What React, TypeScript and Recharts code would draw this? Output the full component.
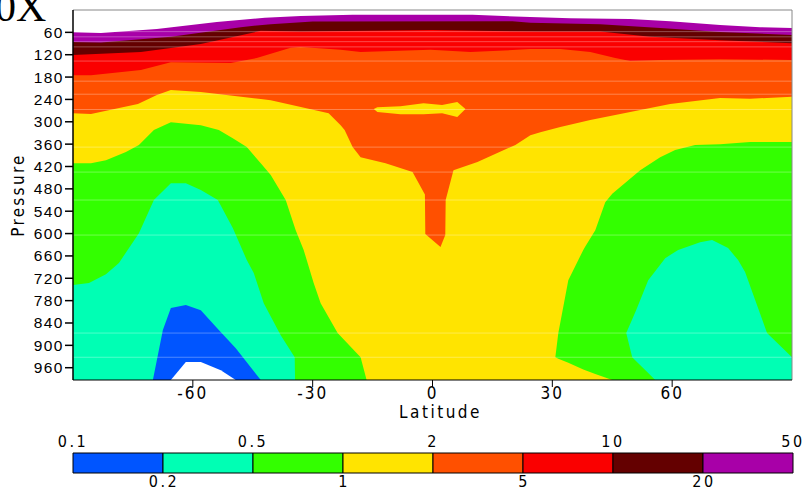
import { ComposedChart, Area, XAxis, YAxis, ReferenceLine, BarChart, Bar, LabelList } from "recharts";

const FONT = '"Liberation Sans", Arial, sans-serif';
const NARROW = '"Liberation Sans Narrow", "Arial Narrow", "DejaVu Sans Condensed", sans-serif';

const latTicks = [-60, -30, 0, 30, 60];
const pressureTicks = [60, 120, 180, 240, 300, 360, 420, 480, 540, 600, 660, 720, 780, 840, 900, 960];
const P_BOTTOM = 993;

// contour levels shown in the colour bar
const levelLabels = ["0.1", "0.2", "0.5", "1", "2", "5", "10", "20", "50"];
const bandColors = ["#0055ff", "#00ffb4", "#33ff00", "#ffe400", "#ff5000", "#fa0000", "#640000", "#a800a8"];

// [lat, pressure] : the field is above the level from the model top down to this pressure
const above50: [number, number][] = [[-90, 60], [-83, 62], [-69, 51], [-54, 32], [-42, 21], [-33, 16], [-20, 13], [10, 13], [24.5, 19], [34.5, 22], [49.5, 24], [59.5, 30], [72, 40], [82, 46], [90, 48]];
const above20: [number, number][] = [[-90, 86], [-83, 87], [-65.5, 72], [-48, 46], [-40.5, 38], [-30, 31], [20, 30], [24.5, 34], [42, 38], [57, 48], [72, 59], [90, 67]];
const above10: [number, number][] = [[-90, 121], [-73, 113], [-58, 91], [-43, 56], [-33, 58], [0, 54], [27, 58], [42, 58], [54.5, 72], [72, 81], [90, 89]];
const above5: [number, number][] = [[-90, 175], [-85.5, 175], [-73, 161], [-65.5, 140], [-50.5, 142], [-44, 129], [-35.5, 101], [-33, 99], [-23, 107], [-18, 113], [-0.5, 107], [9.5, 113], [24.5, 105], [32, 105], [39.5, 113], [45.75, 129], [49.5, 137], [57, 134], [72, 132], [90, 134]];
const above2: [number, number][] = [[-90, 277], [-85.5, 279], [-73.75, 252], [-69, 228], [-65.5, 215], [-58, 220], [-43, 239], [-40.5, 242], [-26, 277], [-23, 309], [-22, 322], [-20, 368], [-18, 395], [-11.75, 411], [-5, 435], [-1.9, 495], [-1.8, 601], [2, 636], [3.2, 604], [3.3, 510], [5.25, 430], [11.25, 408], [20.75, 362], [24.5, 336], [27, 328], [32, 314], [39.5, 295], [49.5, 274], [59.5, 252], [72, 236], [79.5, 238], [90, 233]];

// [lat, top, bottom] : pocket below 2 inside the tropical upper band
const pocket2: [number, number, number][] = [[-14.7, 266, 266], [-13.8, 261, 274], [-8, 258, 280], [-2.25, 250, 280], [2.4, 255, 277], [6.2, 247, 287], [8.25, 266, 266]];

// [lat, pressure] : below the level from this pressure down to the surface
const below1West: [number, number][] = [[-90, 411], [-85.5, 411], [-81.75, 403], [-76.75, 381], [-73.5, 362], [-69.75, 322], [-65.5, 301], [-58, 309], [-53.5, 322], [-50, 344], [-46.5, 368], [-43, 411], [-40.5, 443], [-36.75, 510], [-34.25, 591], [-32.25, 644], [-29.75, 733], [-28, 787], [-23.75, 867], [-18, 932], [-16.5, 993]];
const below05West: [number, number][] = [[-90, 738], [-86, 733], [-81.75, 709], [-78.5, 679], [-73.5, 599], [-69.75, 510], [-65.5, 465], [-61.75, 465], [-58, 483], [-53.75, 510], [-50, 585], [-46.5, 671], [-44.75, 706], [-42.25, 787], [-38, 873], [-34.5, 932], [-34.4, 993]];
const below02: [number, number][] = [[-70, 993], [-67.5, 859], [-65.5, 800], [-61.75, 792], [-58, 806], [-53.5, 859], [-49.25, 908], [-43, 993]];
const below01: [number, number][] = [[-65.5, 993], [-61.75, 945], [-58, 945], [-53, 967], [-49.25, 993]];

// [lat, top, bottom]
const below1East: [number, number, number][] = [[30.75, 932, 932], [31.5, 867, 936], [34, 725, 947], [37.75, 644, 965], [38.25, 635, 967], [40.75, 591, 977], [43.25, 516, 986], [45, 493, 993], [52, 430, 993], [57, 395, 993], [60.75, 376, 993], [65.75, 362, 993], [72, 360, 993], [79.5, 354, 993], [90, 354, 993]];
const below05East: [number, number, number][] = [[48.5, 867, 867], [50, 830, 932], [51, 805, 943], [54, 725, 974], [55.75, 701, 993], [58.25, 666, 993], [61.5, 644, 993], [67, 623, 993], [70, 617, 993], [74, 639, 993], [76.5, 671, 993], [78.25, 703, 993], [83.75, 867, 993], [90, 932, 993]];

// faint level seams visible across the plot
const seamLevels = [58, 72, 85, 99, 137, 191, 226, 267, 368, 435, 510, 604, 867, 932];

const fromTop = (pts: [number, number][]) => pts.map(([lat, p]) => ({ lat, v: [0, p] }));
const toBottom = (pts: [number, number][]) => pts.map(([lat, p]) => ({ lat, v: [p, P_BOTTOM] }));
const band = (pts: [number, number, number][]) => pts.map(([lat, a, b]) => ({ lat, v: [a, b] }));
const fullField = [{ lat: -90, v: [0, P_BOTTOM] }, { lat: 90, v: [0, P_BOTTOM] }];

const layers: { data: { lat: number; v: number[] }[]; color: string }[] = [
  { data: fullField, color: bandColors[3] },
  { data: fromTop(above2), color: bandColors[4] },
  { data: band(pocket2), color: bandColors[3] },
  { data: fromTop(above5), color: bandColors[5] },
  { data: fromTop(above10), color: bandColors[6] },
  { data: fromTop(above20), color: bandColors[7] },
  { data: fromTop(above50), color: "#ffffff" },
  { data: toBottom(below1West), color: bandColors[2] },
  { data: band(below1East), color: bandColors[2] },
  { data: toBottom(below05West), color: bandColors[1] },
  { data: band(below05East), color: bandColors[1] },
  { data: toBottom(below02), color: bandColors[0] },
  { data: toBottom(below01), color: "#ffffff" },
];

const yTick = { fill: "#000", fontSize: 15.5, fontFamily: FONT, letterSpacing: 1.5 };
const xTick = { fill: "#000", fontSize: 17, fontFamily: NARROW, letterSpacing: 2 };
const barTick = { fill: "#000", fontSize: 16, fontFamily: NARROW, letterSpacing: 2.5 };
const barRow = [Object.fromEntries([["row", "bar"], ...bandColors.map((_, i) => [`b${i}`, 1])])];

// label under the right edge of a colour cell
const belowLabel = (text: string) => (props: any) => {
  const vb = props.viewBox ?? props;
  return (
    <text
      x={vb.x + vb.width + 1}
      y={vb.y + vb.height + 3}
      dy="0.71em"
      textAnchor="middle"
      fill="#000"
      fontSize={16}
      fontFamily={NARROW}
      letterSpacing={2.5}
    >
      {text}
    </text>
  );
};

export default function App() {
  return (
    <div style={{ position: "absolute", left: 0, top: 0, width: 804, height: 490, background: "#fff", overflow: "hidden" }}>
      <svg width={120} height={40} style={{ position: "absolute", left: 0, top: 0 }}>
        <text x={-5} y={21} fontFamily='"Liberation Serif", "Times New Roman", serif' fontSize={42} fill="#000">
          0X
        </text>
      </svg>
      <div style={{ position: "absolute", left: 0, top: 0 }}>
        <ComposedChart width={804} height={432} margin={{ top: 10, right: 12, bottom: 0, left: 0 }}>
          {layers.map((l, i) => (
            <Area
              key={i}
              data={l.data}
              dataKey="v"
              type="linear"
              fill={l.color}
              fillOpacity={1}
              stroke="none"
              dot={false}
              activeDot={false}
              isAnimationActive={false}
            />
          ))}
          {seamLevels.map((p) => (
            <ReferenceLine key={p} y={p} stroke="#ffffff" strokeOpacity={0.3} strokeWidth={1} />
          ))}
          <ReferenceLine y={0} stroke="#888" strokeWidth={1} />
          <ReferenceLine x={90} stroke="#888" strokeWidth={1} />
          <XAxis
            type="number"
            dataKey="lat"
            domain={[-90, 90]}
            ticks={latTicks}
            allowDataOverflow
            height={52}
            tickSize={7}
            tickMargin={0}
            stroke="#000"
            tick={xTick}
            label={{ value: "Latitude", position: "insideBottom", offset: 14, dx: 8, fill: "#000", fontSize: 17, fontFamily: NARROW, letterSpacing: 2.5 }}
          />
          <YAxis
            type="number"
            domain={[0, P_BOTTOM]}
            reversed
            ticks={pressureTicks}
            interval={0}
            allowDataOverflow
            width={73}
            tickSize={8}
            tickMargin={1}
            stroke="#000"
            strokeWidth={1.5}
            tick={yTick}
            label={{ value: "Pressure", angle: -90, position: "insideLeft", offset: 18, fill: "#000", fontSize: 17, fontFamily: NARROW, letterSpacing: 2.3, style: { textAnchor: "middle" } }}
          />
        </ComposedChart>
      </div>
      <div style={{ position: "absolute", left: 0, top: 420 }}>
        <BarChart width={804} height={70} layout="vertical" data={barRow} margin={{ top: 0, right: 11, bottom: 17, left: 73 }} barCategoryGap={0}>
          <XAxis
            xAxisId="top"
            orientation="top"
            type="number"
            domain={[0, 8]}
            ticks={[0, 2, 4, 6, 8]}
            tickFormatter={(v: number) => levelLabels[v]}
            axisLine={false}
            tickLine={false}
            tickSize={6}
            tickMargin={0}
            height={33}
            tick={barTick}
            interval={0}
          />
          <YAxis type="category" dataKey="row" hide />
          {bandColors.map((c, i) => (
            <Bar key={c} xAxisId="top" dataKey={`b${i}`} stackId="cb" fill={c} stroke="#000" strokeWidth={1} isAnimationActive={false}>
              {i % 2 === 0 && <LabelList dataKey={`b${i}`} content={belowLabel(levelLabels[i + 1])} />}
            </Bar>
          ))}
        </BarChart>
      </div>
    </div>
  );
}
